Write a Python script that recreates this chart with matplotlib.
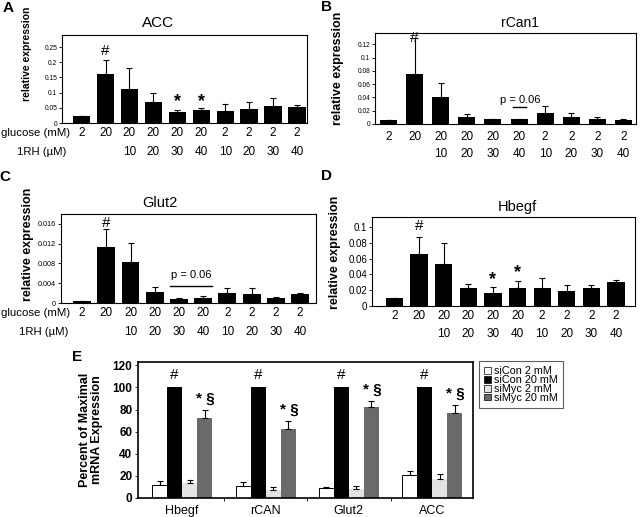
import numpy as np
import matplotlib
matplotlib.use("Agg")
import matplotlib.pyplot as plt
from matplotlib.transforms import blended_transform_factory

plt.rcParams["font.family"] = ["Liberation Sans", "DejaVu Sans"]

W, H = 640, 517

# --- panels A-D: 10 conditions each ---
glucose = ["2", "20", "20", "20", "20", "20", "2", "2", "2", "2"]
rh = ["", "", "10", "20", "30", "40", "10", "20", "30", "40"]

acc_mean = [0.022, 0.162, 0.112, 0.069, 0.035, 0.042, 0.039, 0.046, 0.057, 0.053]
acc_err = [0.0, 0.046, 0.07, 0.030, 0.007, 0.007, 0.023, 0.023, 0.025, 0.005]

rcan_mean = [0.006, 0.0754, 0.040, 0.011, 0.0072, 0.0072, 0.016, 0.010, 0.0075, 0.0065]
rcan_err = [0.0, 0.054, 0.021, 0.0035, 0.0, 0.0, 0.011, 0.007, 0.0025, 0.001]

glut_mean = [0.0004, 0.0113, 0.0082, 0.0022, 0.0008, 0.0011, 0.0020, 0.0019, 0.00095, 0.0018]
glut_err = [0.0001, 0.0037, 0.0039, 0.0011, 0.0003, 0.0003, 0.0011, 0.0012, 0.0003, 0.0002]

hb_mean = [0.0097, 0.066, 0.0534, 0.0229, 0.0161, 0.0233, 0.0225, 0.0195, 0.0229, 0.030]
hb_err = [0.001, 0.021, 0.026, 0.005, 0.0076, 0.008, 0.0127, 0.0072, 0.0038, 0.003]

# --- panel E ---
genes = ["Hbegf", "rCAN", "Glut2", "ACC"]
groups = ["siCon 2 mM", "siCon 20 mM", "siMyc 2 mM", "siMyc 20 mM"]
e_mean = [[12, 11, 8.7, 21],
          [100, 100, 100, 100],
          [13.5, 7.5, 8, 17.4],
          [72, 62, 82.5, 76.5]]
e_err = [[3, 3.4, 1.5, 3.6],
         [0, 0, 0, 0],
         [3, 2.5, 2.5, 4.2],
         [7.5, 7.5, 5, 7.5]]
e_colors = ["white", "black", "#e3e3e3", "#6a6a6a"]

fig = plt.figure(figsize=(W / 100, H / 100), dpi=100)


def px_axes(l, t, r, b):
    return fig.add_axes([l / W, 1 - b / H, (r - l) / W, (b - t) / H])


def ftext(x, y, s, **kw):
    fig.text(x / W, 1 - y / H, s, **kw)


def bar_panel(box, mean, err, xlim, ylim, ticks, ticklabels, tfs, width,
              title, tpos, tsize, row_y, ylab_pos, ylab_size):
    ax = px_axes(*box)
    x = np.arange(len(mean))
    ax.bar(x, mean, width=width, color="black")
    ax.errorbar(x, mean, yerr=[np.zeros(len(err)), err], fmt="none",
                ecolor="black", elinewidth=0.8, capsize=2, capthick=0.8)
    ax.set_xlim(*xlim)
    ax.set_ylim(*ylim)
    ax.set_yticks(ticks)
    ax.set_yticklabels(ticklabels, fontsize=tfs)
    ax.set_xticks([])
    ax.tick_params(axis="y", length=2, width=0.6, pad=1.5)
    for sp in ax.spines.values():
        sp.set_linewidth(0.8)
    tr = blended_transform_factory(ax.transData, fig.transFigure)
    for xi, g, r in zip(x, glucose, rh):
        ax.text(xi, 1 - row_y[0] / H, g, transform=tr, ha="center",
                va="center", fontsize=8.5)
        ax.text(xi, 1 - row_y[1] / H, r, transform=tr, ha="center",
                va="center", fontsize=8.5)
    ftext(*tpos, title, ha="center", va="center", fontsize=tsize)
    ftext(*ylab_pos, "relative expression", rotation=90, ha="center",
          va="center", fontsize=ylab_size, fontweight="bold")
    return ax


# A
axA = bar_panel((62, 35, 307, 123), acc_mean, acc_err, (-0.82, 9.42), (0, 0.29),
                [0, 0.05, 0.1, 0.15, 0.2, 0.25],
                ["0", "0.05", "0.1", "0.15", "0.2", "0.25"], 4.8, 0.72,
                "ACC", (158, 23), 11, (133, 152), (27, 54), 7.5)
axA.text(1, 0.236, "#", ha="center", va="center", fontsize=11)
for i, yy in [(4, 0.072), (5, 0.072)]:
    axA.text(i, yy, "*", ha="center", va="center", fontsize=13, fontweight="bold")

# B
axB = bar_panel((375, 33, 636, 124), rcan_mean, rcan_err, (-0.52, 9.48), (0, 0.137),
                [0, 0.02, 0.04, 0.06, 0.08, 0.1, 0.12],
                ["0", "0.02", "0.04", "0.06", "0.08", "0.1", "0.12"], 4.8, 0.65,
                "rCan1", (520, 23), 10, (137, 154), (338, 68), 9)
axB.text(1, 0.129, "#", ha="center", va="center", fontsize=11)
axB.plot([4.75, 5.25], [0.025, 0.025], color="black", lw=1)
axB.text(5.05, 0.036, "p = 0.06", ha="center", va="center", fontsize=8)

# C
axC = bar_panel((61, 214, 316, 303), glut_mean, glut_err, (-0.87, 9.66), (0, 0.018),
                [0, 0.004, 0.008, 0.012, 0.016],
                ["0", "0.004", "0.008", "0.012", "0.016"], 5.2, 0.74,
                "Glut2", (160, 203), 10.5, (313, 332), (28, 244), 9)
axC.text(1, 0.0161, "#", ha="center", va="center", fontsize=11)
axC.plot([3.63, 5.37], [0.0034, 0.0034], color="black", lw=1)
axC.text(4.5, 0.00565, "p = 0.06", ha="center", va="center", fontsize=8)

# D
axD = bar_panel((372, 217, 635, 306), hb_mean, hb_err, (-0.91, 9.77), (0, 0.113),
                [0, 0.02, 0.04, 0.06, 0.08, 0.1],
                ["0", "0.02", "0.04", "0.06", "0.08", "0.1"], 7, 0.7,
                "Hbegf", (517, 207), 10.5, (316, 334), (335, 252), 9)
axD.text(1, 0.101, "#", ha="center", va="center", fontsize=11)
axD.text(4, 0.034, "*", ha="center", va="center", fontsize=13, fontweight="bold")
axD.text(5, 0.043, "*", ha="center", va="center", fontsize=13, fontweight="bold")

# row headers
ftext(1, 133, "glucose (mM)", ha="left", va="center", fontsize=8.2)
ftext(17, 152, "1RH (\u00b5M)", ha="left", va="center", fontsize=8.2)
ftext(1, 313, "glucose (mM)", ha="left", va="center", fontsize=8.2)
ftext(19, 332, "1RH (\u00b5M)", ha="left", va="center", fontsize=8.2)

# E
axE = px_axes(138, 362, 473, 498)
xg = np.arange(len(genes))
bw = 0.18
for k in range(4):
    xs = xg + (k - 1.5) * bw
    ax_kw = dict(edgecolor="black", linewidth=0.7) if k == 0 else dict(linewidth=0)
    axE.bar(xs, e_mean[k], width=bw, color=e_colors[k], label=groups[k], **ax_kw)
    if k != 1:
        axE.errorbar(xs, e_mean[k], yerr=[np.zeros(4), e_err[k]], fmt="none",
                     ecolor="black", elinewidth=0.8, capsize=2, capthick=0.8)
for gx in xg:
    axE.text(gx - 0.5 * bw, 111, "#", ha="center", va="center", fontsize=11)
for gx, m, e in zip(xg, e_mean[3], e_err[3]):
    axE.text(gx + 1.5 * bw + 0.01, m + e + 10, "* \u00a7", ha="center",
             va="center", fontsize=11, fontweight="bold")
axE.set_xlim(-0.53, 3.49)
axE.set_ylim(0, 123)
axE.set_yticks(range(0, 121, 20))
axE.set_yticklabels([str(v) for v in range(0, 121, 20)], fontsize=8.5,
                    fontweight="bold")
axE.set_xticks(xg)
axE.set_xticklabels(genes, fontsize=9)
axE.set_xticks([0.5, 1.5, 2.5], minor=True)
axE.tick_params(axis="x", which="major", length=0, pad=5)
axE.tick_params(axis="x", which="minor", length=2, width=0.6)
axE.tick_params(axis="y", length=2, width=0.6, pad=2)
for sp in axE.spines.values():
    sp.set_linewidth(1.2)
leg = axE.legend(loc="upper left", bbox_to_anchor=(1.018, 1.01), fontsize=7.8,
                 frameon=True, fancybox=False, edgecolor="#333333",
                 handlelength=0.6, handleheight=0.6, handletextpad=0.3,
                 labelspacing=-0.1, borderpad=0.5, borderaxespad=0)
leg.get_frame().set_linewidth(0.8)
for h in leg.legend_handles:
    h.set_edgecolor("black")
    h.set_linewidth(0.5)
ftext(91, 430, "Percent of Maximal\nmRNA Expression", rotation=90, ha="center",
      va="center", fontsize=9, fontweight="bold", multialignment="center",
      linespacing=1.0)

# panel letters
for lab, (lx, ly) in {"A": (8, 8), "B": (326, 7), "C": (5, 177),
                      "D": (326, 176), "E": (77, 357)}.items():
    ftext(lx, ly, lab, ha="center", va="center", fontsize=11, fontweight="bold")

fig.savefig("out.png", dpi=100)
